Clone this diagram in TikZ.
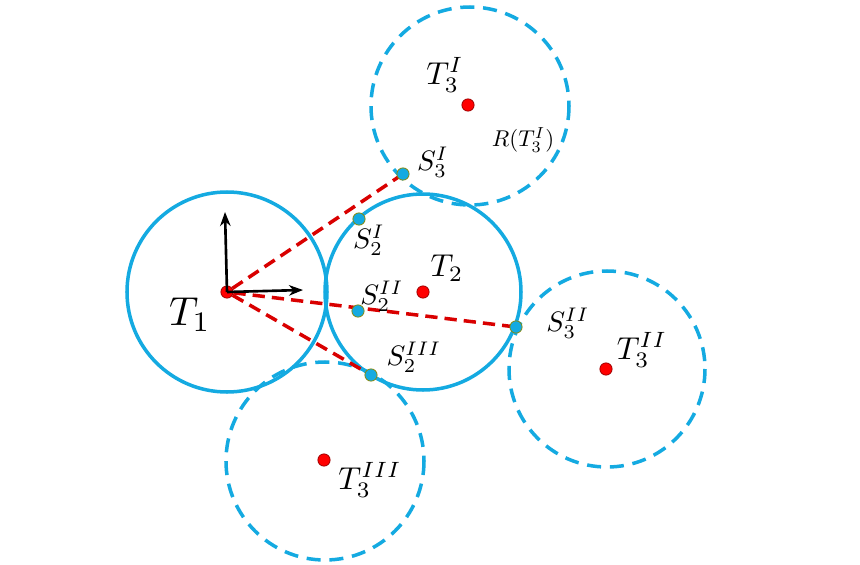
\documentclass[tikz,border=0pt]{standalone}
\usetikzlibrary{arrows.meta}
\definecolor{ring}{RGB}{20,170,225}
\tikzset{
  reach/.style={line width=2pt, ring},
  far/.style={reach, dash pattern=on 8pt off 5pt},
  link/.style={red!85!black, line width=2pt, dash pattern=on 7pt off 4pt},
  centre/.style={circle, fill=red, draw=red!60!black, inner sep=0pt, minimum size=7pt},
  touch/.style={circle, fill=ring, draw=olive, inner sep=0pt, minimum size=7pt},
  axis/.style={-{Stealth[length=8pt]}, line width=1.5pt}
}
\begin{document}
\begin{tikzpicture}[x=0.02cm, y=-0.02cm]

            % the frame
            \useasboundingbox (0,0) rectangle (860,565);

            % the ranges
            \draw[reach] (227,292) circle (100);
            \draw[reach] (423,292) circle (98);
            \draw[far] (470,106) circle (99);
            \draw[far] (607,369) circle (98);
            \draw[far] (325,461) circle (99);

            % the centres
            \node[centre] (t1) at (227,292) {};
            \node[centre] (t2) at (423,292) {};
            \node[centre] (t3a) at (468,105) {};
            \node[centre] (t3b) at (606,369) {};
            \node[centre] (t3c) at (324,460) {};

            % the links
            \coordinate (s3a) at (403,174);
            \coordinate (s2a) at (359,219);
            \coordinate (s2b) at (358,311);
            \coordinate (s3b) at (516,327);
            \coordinate (s2c) at (371,375);
            \draw[link] (t1) -- (s3a);
            \draw[link] (t1) -- (s3b);
            \draw[link] (t1) -- (s2c);
            \foreach \p in {s3a,s2a,s2b,s3b,s2c} {
                \node[touch] at (\p) {};
            }

            % the frame of T1
            \coordinate (up) at (225,212);
            \coordinate (rt) at (303,290);
            \draw[axis] (t1.center) -- (up);
            \draw[axis] (t1.center) -- (rt);

            % labels
            \node[scale=2.3] (l1) at (190,315) {$T_1$};
            \node[scale=1.8] (l2) at (447,268) {$T_2$};
            \node[scale=1.8] (l3a) at (445,75) {$T_3^I$};
            \node[scale=1.3] (r3a) at (523,140) {$R(T_3^I)$};
            \node[scale=1.6] (ls3a) at (433,162) {$S_3^I$};
            \node[scale=1.6] (ls2a) at (369,240) {$S_2^I$};
            \node[scale=1.6] (ls2b) at (382,296) {$S_2^{II}$};
            \node[scale=1.6] (ls3b) at (568,323) {$S_3^{II}$};
            \node[scale=1.6] (ls2c) at (414,357) {$S_2^{III}$};
            \node[scale=1.8] (l3b) at (642,350) {$T_3^{II}$};
            \node[scale=1.8] (l3c) at (370,480) {$T_3^{III}$};
        \end{tikzpicture}
\end{document}
